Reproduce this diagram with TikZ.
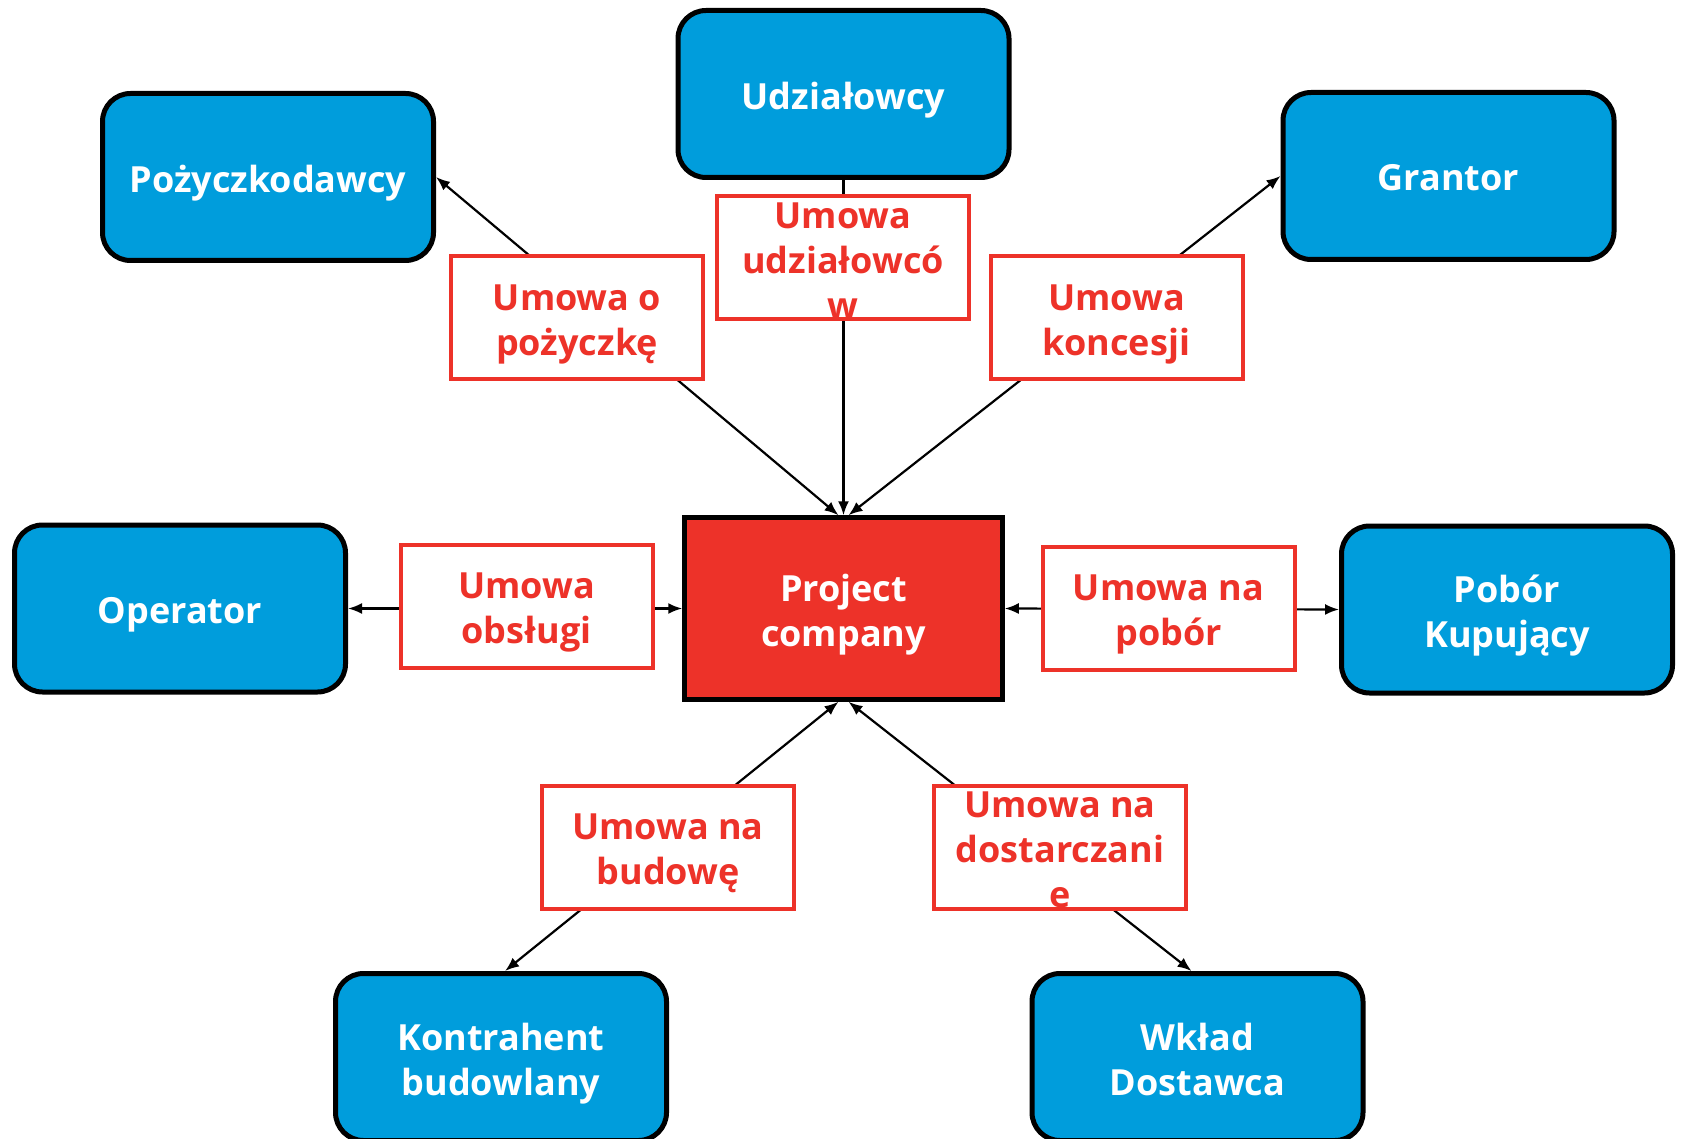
\documentclass[tikz,border=0pt]{standalone}
\usepackage{fontspec}
\setmainfont{Open Sans}
\usetikzlibrary{arrows.meta}
\definecolor{partyblue}{RGB}{0,157,220}
\definecolor{contractred}{RGB}{237,50,41}
\begin{document}
\begin{tikzpicture}[x=1pt,y=-1pt,
  party/.style={draw=black, line width=5pt, fill=partyblue, rounded corners=28pt,
    minimum width=331pt, minimum height=167pt, inner sep=0pt},
  company/.style={draw=black, line width=4.5pt, fill=contractred,
    minimum width=318pt, minimum height=182pt, inner sep=0pt},
  contract/.style={draw=contractred, line width=4pt, fill=white,
    minimum width=252pt, minimum height=123pt, inner sep=0pt},
  whitetext/.style={text=white, align=center, inner sep=0pt,
    font=\fontsize{36}{45}\selectfont\bfseries},
  redtext/.style={text=contractred, align=center, inner sep=0pt,
    font=\fontsize{36}{45}\selectfont\bfseries},
  link/.style={line width=2.2pt, draw=black},
  tip/.style={-{Latex[length=14pt,width=11pt]}},
  tips/.style={{Latex[length=14pt,width=11pt]}-{Latex[length=14pt,width=11pt]}}]

% page frame
\fill[white] (0,0) rectangle (1683,1139);
\useasboundingbox (0,0) rectangle (1683,1139);

% parties
\node[party]   (poz)    at (268,177)    {};
\node[party]   (udz)    at (843.5,94)   {};
\node[party]   (grant)  at (1448.5,176) {};
\node[party]   (oper)   at (180,608.5)  {};
\node[company] (pc)     at (843.5,608.5){};
\node[party]   (pobor)  at (1507,609.5) {};
\node[party]   (kontr)  at (501,1057)   {};
\node[party]   (wklad)  at (1197.5,1057){};

\node[whitetext] (pozt)   at ([yshift=-6.5pt]poz.center)   {Pożyczkodawcy};
\node[whitetext] (udzt)   at ([yshift=-6.5pt]udz.center)   {Udziałowcy};
\node[whitetext] (grantt) at ([yshift=-2pt]grant.center)   {Grantor};
\node[whitetext] (opert)  at ([yshift=-6.5pt]oper.center)  {Operator};
\node[whitetext] (pct)    at ([yshift=-6.5pt]pc.center)    {Project\\company};
\node[whitetext] (pobort) at ([yshift=-6.5pt]pobor.center) {Pobór\\Kupujący};
\node[whitetext] (kontrt) at ([yshift=-6.5pt]kontr.center) {Kontrahent\\budowlany};
\node[whitetext] (wkladt) at ([yshift=-2pt]wklad.center)   {Wkład\\Dostawca};

% contract links
\draw[link,tips] ([xshift=-5pt]pc.north) -- (poz.east);
\draw[link,tip]  (udz.south) -- (pc.north);
\draw[link,tips] ([xshift=5pt]pc.north) -- (grant.west);
\draw[link,tips] (pc.west) -- (oper.east);
\draw[link,tips] (pc.east) -- (pobor.west);
\draw[link,tips] ([xshift=-5pt]pc.south) -- ([xshift=4pt]kontr.north);
\draw[link,tips] ([xshift=5pt]pc.south) -- ([xshift=-6pt]wklad.north);

% contract labels
\node[contract] (lpoz) at (577,317.5)   {};
\node[contract] (ludz) at (843,257.5)   {};
\node[contract] (lkon) at (1116.5,317.5){};
\node[contract] (lobs) at (526.5,606)   {};
\node[contract] (lpob) at (1168.5,608)  {};
\node[contract] (lbud) at (668,847)     {};
\node[contract] (ldos) at (1060,847)    {};

\node[redtext] (lpozt) at ([yshift=-6.5pt]lpoz.center) {Umowa o\\pożyczkę};
\node[redtext] (ludzt) at ([yshift=-3pt]ludz.center)   {Umowa\\udziałowcó\\w};
\node[redtext] (lkont) at ([yshift=-6.5pt]lkon.center) {Umowa\\koncesji};
\node[redtext] (lobst) at ([yshift=-6.5pt]lobs.center) {Umowa\\obsługi};
\node[redtext] (lpobt) at ([yshift=-6.5pt]lpob.center) {Umowa na\\pobór};
\node[redtext] (lbudt) at ([yshift=-6.5pt]lbud.center) {Umowa na\\budowę};
\node[redtext] (ldost) at ([yshift=-3pt]ldos.center)   {Umowa na\\dostarczani\\e};
\end{tikzpicture}
\end{document}
